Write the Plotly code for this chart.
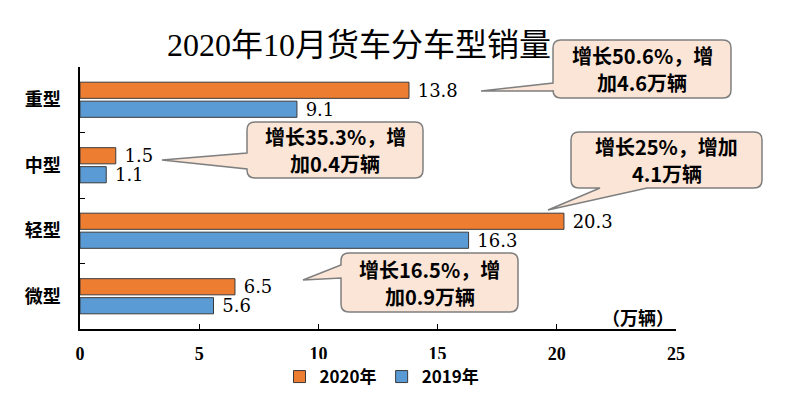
import plotly.graph_objects as go

categories = ["重型", "中型", "轻型", "微型"]
sales_2020 = [13.8, 1.5, 20.3, 6.5]
sales_2019 = [9.1, 1.1, 16.3, 5.6]
series_names = ["2020年", "2019年"]
callout_lines = [
    ("增长50.6%，增", "加4.6万辆"),
    ("增长35.3%，增", "加0.4万辆"),
    ("增长25%，增加", "4.1万辆"),
    ("增长16.5%，增", "加0.9万辆"),
]
x_ticks = [0, 5, 10, 15, 20, 25]

W, H = 793, 397
L, R, T, B = 80, 676, 67, 329

ORANGE = "#ED7D31"
BLUE = "#5B9BD5"
EDGE = "#3a3a3a"
NUM_FONT = "DejaVu Serif, Noto Sans CJK SC"
CJK_FONT = "Noto Sans CJK SC"


def pp(x, y):
    return (x - L) / (R - L), (B - y) / (B - T)


def fmt(x, y):
    a, b = pp(x, y)
    return f"{a:.5f},{b:.5f}"


def callout_path(x0, y0, x1, y1, r, side, b1, b2, tip):
    p = [f"M{fmt(x0 + r, y0)}", f"L{fmt(x1 - r, y0)}",
         f"Q{fmt(x1, y0)} {fmt(x1, y0 + r)}", f"L{fmt(x1, y1 - r)}",
         f"Q{fmt(x1, y1)} {fmt(x1 - r, y1)}"]
    if side == "bottom":
        p += [f"L{fmt(b2, y1)}", f"L{fmt(*tip)}", f"L{fmt(b1, y1)}"]
    p += [f"L{fmt(x0 + r, y1)}", f"Q{fmt(x0, y1)} {fmt(x0, y1 - r)}"]
    if side == "left":
        p += [f"L{fmt(x0, b2)}", f"L{fmt(*tip)}", f"L{fmt(x0, b1)}"]
    p += [f"L{fmt(x0, y0 + r)}", f"Q{fmt(x0, y0)} {fmt(x0 + r, y0)}", "Z"]
    return " ".join(p)


# callout geometry (pixels): box, tail side, tail base, tip
callouts = [
    ((553, 40, 731, 98), "left", 83, 91, (481, 91)),
    ((247, 122, 423, 178), "left", 153, 169, (162, 160)),
    ((571, 132, 762, 188), "bottom", 600, 647, (548, 210)),
    ((341, 253, 518, 312), "left", 265, 278, (303, 280)),
]

fig = go.Figure()
for name, vals, col in [(series_names[0], sales_2020, ORANGE), (series_names[1], sales_2019, BLUE)]:
    fig.add_trace(go.Bar(
        y=categories, x=vals, orientation="h", name=name,
        marker=dict(color=col, line=dict(color=EDGE, width=1)),
        text=vals, texttemplate=" %{x}", textposition="outside",
        constraintext="none",
        textfont=dict(family=NUM_FONT, size=18, color="black"),
        cliponaxis=False,
    ))

shapes = []
annotations = []
for (box, side, b1, b2, tip), (l1, l2) in zip(callouts, callout_lines):
    x0, y0, x1, y1 = box
    shapes.append(dict(type="path", xref="paper", yref="paper",
                       path=callout_path(x0, y0, x1, y1, 8, side, b1, b2, tip),
                       fillcolor="#FBE5D6", line=dict(color="#7F7F7F", width=1.5),
                       layer="above"))
    cxp = (x0 + x1) / 2
    cyp = (y0 + y1) / 2
    for txt, dy in ((l1, -13.5), (l2, 13.5)):
        cx, cy = pp(cxp, cyp + dy)
        annotations.append(dict(xref="paper", yref="paper", x=cx, y=cy, text=txt,
                                showarrow=False, xanchor="center", yanchor="middle",
                                align="center",
                                font=dict(family=CJK_FONT, size=20, color="black", weight="bold")))

ux, uy = pp(676, 317)
annotations.append(dict(xref="paper", yref="paper", x=ux, y=uy, text="（万辆）",
                        showarrow=False, xanchor="right", yanchor="middle",
                        font=dict(family=CJK_FONT, size=18, color="black", weight="bold")))

fig.update_layout(
    width=W, height=H,
    margin=dict(l=L, r=W - R, t=T, b=H - B, pad=0, autoexpand=False),
    paper_bgcolor="white", plot_bgcolor="white",
    barmode="group", bargap=0.42, bargroupgap=0.15,
    title=dict(text="2020年10月货车分车型销量", x=359 / W, xanchor="center",
               y=1 - 45 / H, yanchor="middle",
               font=dict(family="Liberation Serif, Noto Sans CJK SC", size=32, color="black")),
    xaxis=dict(range=[0, 25], tickvals=x_ticks, ticks="inside", ticklen=5,
               tickcolor="black", showline=True, linecolor="black", linewidth=1.5,
               showgrid=False, zeroline=False, automargin=False,
               tickfont=dict(family="Liberation Serif", size=18, color="black", weight="bold"),
               ticklabelstandoff=8),
    yaxis=dict(autorange="reversed", ticks="inside", tickson="boundaries", ticklen=5,
               tickcolor="black", showline=True, linecolor="black", linewidth=1.5,
               showgrid=False, automargin=False,
               tickfont=dict(family=CJK_FONT, size=18, color="black", weight="bold"),
               ticklabelstandoff=14),
    legend=dict(orientation="h", x=(382 - L) / (R - L), xanchor="center",
                y=(B - 377) / (B - T), yanchor="middle",
                font=dict(family=CJK_FONT, size=17, color="black", weight="bold"),
                itemwidth=30, traceorder="normal"),
    shapes=shapes, annotations=annotations,
)

fig.write_html("out.html", config={"displayModeBar": False},
               post_script="document.body.style.margin='0';document.body.style.overflow='hidden';")
